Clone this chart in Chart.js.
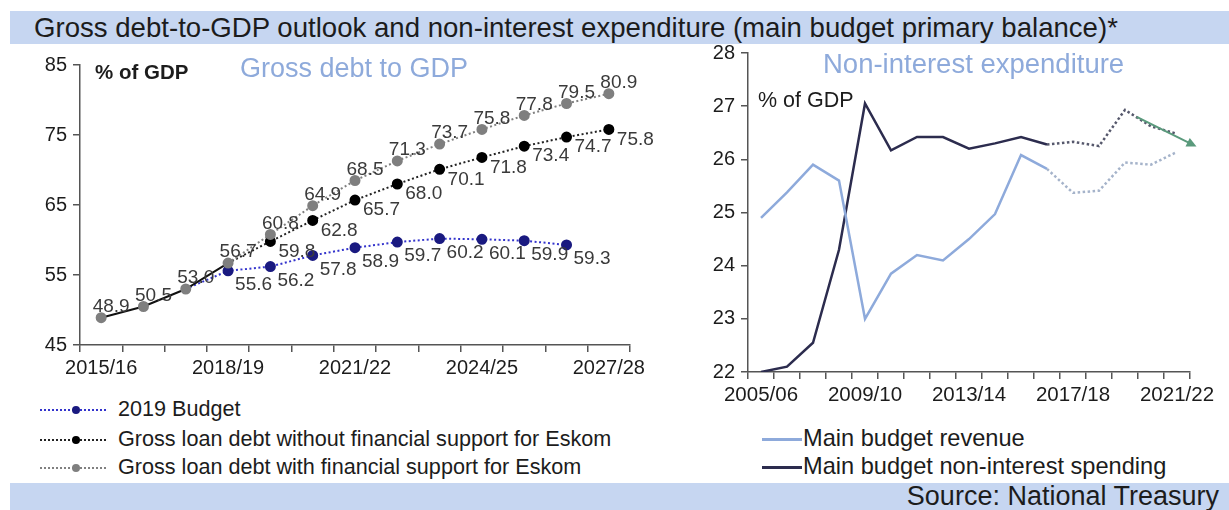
<!DOCTYPE html>
<html>
<head>
<meta charset="utf-8">
<script src="https://cdn.jsdelivr.net/npm/chart.js@4.4.1/dist/chart.umd.min.js"></script>
<style>
  body { margin:0; width:1229px; height:510px; background:#fff; position:relative; overflow:hidden;
         font-family: Arial, "Liberation Sans", sans-serif; color:#1c1c1c; }
  .band { position:absolute; left:10px; right:0; background:#c6d6f1; }
  #titleBand { top:11px; height:33px; }
  #titleBand span { position:absolute; left:24px; top:0; line-height:33px; font-size:27.6px; white-space:nowrap; }
  #sourceBand { top:483px; height:27px; }
  #sourceBand span { position:absolute; right:10px; top:0; line-height:27px; font-size:27px; white-space:nowrap; }
  canvas { position:absolute; }
  .note { position:absolute; white-space:nowrap; }
  .legL { position:absolute; left:40px; font-size:21.6px; white-space:nowrap; }
  .legL svg { vertical-align:middle; margin-right:10px; }
  .legR { position:absolute; left:762px; font-size:23.6px; white-space:nowrap; }
  .legR i { display:inline-block; width:40px; height:3px; vertical-align:middle; margin-right:1px; }
</style>
</head>
<body>
<div class="band" id="titleBand"><span>Gross debt-to-GDP outlook and non-interest expenditure (main budget primary balance)*</span></div>

<canvas id="debtChart" width="665" height="345" style="left:0;top:45px"></canvas>
<canvas id="spendChart" width="539" height="385" style="left:690px;top:35px"></canvas>

<div class="note" style="left:95px;top:60px;font-size:20.5px;font-weight:bold">% of GDP</div>
<div class="note" style="left:240px;top:53px;font-size:27px;color:#8eaadb">Gross debt to GDP</div>
<div class="note" style="left:823px;top:48px;font-size:27.5px;color:#8eaadb">Non-interest expenditure</div>
<div class="note" style="left:758px;top:88px;font-size:21.5px">% of GDP</div>

<div class="legL" style="top:396px">
  <svg width="68" height="10"><line x1="0" y1="5" x2="68" y2="5" stroke="#3333cc" stroke-width="2" stroke-dasharray="2 2"/><circle cx="36" cy="5" r="4" fill="#1a1a80"/></svg>2019 Budget</div>
<div class="legL" style="top:426px">
  <svg width="68" height="10"><line x1="0" y1="5" x2="68" y2="5" stroke="#222" stroke-width="2" stroke-dasharray="2 2"/><circle cx="36" cy="5" r="4" fill="#000"/></svg>Gross loan debt without financial support for Eskom</div>
<div class="legL" style="top:454px">
  <svg width="68" height="10"><line x1="0" y1="5" x2="68" y2="5" stroke="#808080" stroke-width="2" stroke-dasharray="2 2"/><circle cx="36" cy="5" r="4" fill="#7f7f7f"/></svg>Gross loan debt with financial support for Eskom</div>

<div class="legR" style="top:425px"><i style="background:#8eaadb"></i>Main budget revenue</div>
<div class="legR" style="top:453px"><i style="background:#2c2c4e"></i>Main budget non-interest spending</div>

<div class="band" id="sourceBand"><span>Source: National Treasury</span></div>

<script>
// Gross debt to GDP, fiscal years
const debtYears = ['2015/16','2016/17','2017/18','2018/19','2019/20','2020/21','2021/22',
                   '2022/23','2023/24','2024/25','2025/26','2026/27','2027/28'];
const budget2019 = [null, null, 53.0, 55.6, 56.2, 57.8, 58.9, 59.7, 60.2, 60.1, 59.9, 59.3, null];
const withoutEskom = [null, null, null, 56.7, 59.8, 62.8, 65.7, 68.0, 70.1, 71.8, 73.4, 74.7, 75.8];
const withEskom = [48.9, 50.5, 53.0, 56.7, 60.8, 64.9, 68.5, 71.3, 73.7, 75.8, 77.8, 79.5, 80.9];
const debtTicks = [45, 55, 65, 75, 85];
const lastOutcome = 3; // 2018/19 is the last solid point

// Main budget revenue and non-interest spending
const spendYears = ['2005/06','2006/07','2007/08','2008/09','2009/10','2010/11','2011/12','2012/13','2013/14',
                    '2014/15','2015/16','2016/17','2017/18','2018/19','2019/20','2020/21','2021/22'];
const revenue = [24.9, 25.38, 25.9, 25.6, 23.0, 23.85, 24.2, 24.1, 24.5, 24.97, 26.08, 25.82,
                 25.37, 25.41, 25.94, 25.9, 26.14];
const nonInterest = [22.0, 22.1, 22.55, 24.3, 27.05, 26.17, 26.42, 26.42, 26.2, 26.3, 26.42, 26.28,
                     26.33, 26.25, 26.93, 26.62, 26.48];
const lastActual = 11; // 2016/17
const arrowFrom = [14.45, 26.8];
const arrowTo = [16.75, 26.24];

const font = 'Arial, "Liberation Sans", sans-serif';
const axisColor = '#555';

// value labels next to points; dx/dy relative to the point, align = text alignment
const pointLabels = {
  id: 'pointLabels',
  afterDatasetsDraw(chart) {
    const ctx = chart.ctx;
    chart.data.datasets.forEach((ds, di) => {
      if (!ds.labelAt) return;
      const meta = chart.getDatasetMeta(di);
      ctx.save();
      ctx.font = '19px ' + font;
      ctx.fillStyle = '#3a3a3a';
      ctx.textAlign = ds.labelAt.align;
      ctx.textBaseline = 'middle';
      meta.data.forEach((pt, i) => {
        const v = ds.data[i];
        if (v == null || i < ds.labelAt.from) return;
        ctx.fillText(v.toFixed(1), pt.x + ds.labelAt.dx, pt.y + ds.labelAt.dy);
      });
      ctx.restore();
    });
  }
};

const dotted = [2, 2.5];

new Chart(document.getElementById('debtChart'), {
  type: 'line',
  data: {
    labels: debtYears,
    datasets: [
      {
        label: 'Gross loan debt with financial support for Eskom',
        data: withEskom,
        borderColor: '#808080', borderWidth: 2,
        borderDash: dotted,
        segment: {
          borderColor: c => c.p1DataIndex <= lastOutcome ? '#111' : undefined,
          borderDash: c => c.p1DataIndex <= lastOutcome ? [] : undefined
        },
        pointBackgroundColor: '#7f7f7f', pointBorderColor: '#7f7f7f', pointRadius: 4.5,
        labelAt: { from: 0, dx: 10, dy: -11, align: 'center' }
      },
      {
        label: 'Gross loan debt without financial support for Eskom',
        data: withoutEskom,
        borderColor: '#222', borderWidth: 2, borderDash: dotted,
        pointBackgroundColor: '#000', pointBorderColor: '#000',
        pointRadius: c => c.dataIndex <= lastOutcome ? 0 : 4.5,
        labelAt: { from: 4, dx: 8, dy: 10, align: 'left' }
      },
      {
        label: '2019 Budget',
        data: budget2019,
        borderColor: '#3333cc', borderWidth: 2, borderDash: dotted,
        pointBackgroundColor: '#1a1a80', pointBorderColor: '#1a1a80',
        pointRadius: c => c.dataIndex < lastOutcome ? 0 : 4.5,
        labelAt: { from: 3, dx: 7, dy: 14, align: 'left' }
      }
    ]
  },
  options: {
    responsive: false,
    animation: false,
    layout: { padding: { top: 20, right: 35, left: 0, bottom: 0 } },
    plugins: { legend: { display: false }, tooltip: { enabled: false } },
    scales: {
      x: {
        offset: true,
        afterFit: s => { s.height = 45; },
        grid: { offset: true, drawOnChartArea: false, tickLength: 7, color: axisColor, lineWidth: 1.5 },
        border: { color: axisColor, width: 1.5 },
        ticks: {
          autoSkip: false, maxRotation: 0, padding: 4,
          color: '#1c1c1c', font: { family: font, size: 20 },
          callback: (v, i) => i % 3 === 0 ? debtYears[i] : ''
        }
      },
      y: {
        min: 45, max: 85,
        afterFit: s => { s.width = 80; },
        afterBuildTicks: s => { s.ticks = debtTicks.map(v => ({ value: v })); },
        grid: { drawOnChartArea: false, tickLength: 7, color: axisColor, lineWidth: 1.5 },
        border: { color: axisColor, width: 1.5 },
        ticks: { padding: 6, color: '#1c1c1c', font: { family: font, size: 20 } }
      }
    }
  },
  plugins: [pointLabels]
});

// green arrow over the last outer years
const trendArrow = {
  id: 'trendArrow',
  afterDatasetsDraw(chart) {
    const { ctx, scales: { x, y } } = chart;
    const x0 = x.getPixelForValue(arrowFrom[0]), y0 = y.getPixelForValue(arrowFrom[1]);
    const x1 = x.getPixelForValue(arrowTo[0]), y1 = y.getPixelForValue(arrowTo[1]);
    const a = Math.atan2(y1 - y0, x1 - x0), head = 11;
    ctx.save();
    ctx.strokeStyle = ctx.fillStyle = '#5a9a7c';
    ctx.lineWidth = 2;
    ctx.beginPath();
    ctx.moveTo(x0, y0);
    ctx.lineTo(x1 - head * 0.8 * Math.cos(a), y1 - head * 0.8 * Math.sin(a));
    ctx.stroke();
    ctx.beginPath();
    ctx.moveTo(x1, y1);
    ctx.lineTo(x1 - head * Math.cos(a - 0.45), y1 - head * Math.sin(a - 0.45));
    ctx.lineTo(x1 - head * Math.cos(a + 0.45), y1 - head * Math.sin(a + 0.45));
    ctx.closePath();
    ctx.fill();
    ctx.restore();
  }
};

const projected = dashedColor => ({
  borderColor: c => c.p0DataIndex >= lastActual ? dashedColor : undefined,
  borderDash: c => c.p0DataIndex >= lastActual ? [2.5, 2.5] : undefined
});

new Chart(document.getElementById('spendChart'), {
  type: 'line',
  data: {
    labels: spendYears,
    datasets: [
      {
        label: 'Main budget revenue',
        data: revenue,
        borderColor: '#8eaadb', borderWidth: 2.5, pointRadius: 0,
        segment: projected('#a5b3ca')
      },
      {
        label: 'Main budget non-interest spending',
        data: nonInterest,
        borderColor: '#2c2c4e', borderWidth: 2.5, pointRadius: 0,
        segment: projected('#56586c')
      }
    ]
  },
  options: {
    responsive: false,
    animation: false,
    layout: { padding: { top: 18, right: 39, left: 0, bottom: 0 } },
    plugins: { legend: { display: false }, tooltip: { enabled: false } },
    scales: {
      x: {
        offset: true,
        afterFit: s => { s.height = 48; },
        grid: { offset: true, drawOnChartArea: false, tickLength: 7, color: axisColor, lineWidth: 1.5 },
        border: { color: axisColor, width: 1.5 },
        ticks: {
          autoSkip: false, maxRotation: 0, padding: 4,
          color: '#1c1c1c', font: { family: font, size: 20.5 },
          callback: (v, i) => i % 4 === 0 ? spendYears[i] : ''
        }
      },
      y: {
        min: 22, max: 28,
        afterFit: s => { s.width = 58; },
        grid: { drawOnChartArea: false, tickLength: 7, color: axisColor, lineWidth: 1.5 },
        border: { color: axisColor, width: 1.5 },
        ticks: { stepSize: 1, padding: 6, color: '#1c1c1c', font: { family: font, size: 20 } }
      }
    }
  },
  plugins: [trendArrow]
});
</script>
</body>
</html>
